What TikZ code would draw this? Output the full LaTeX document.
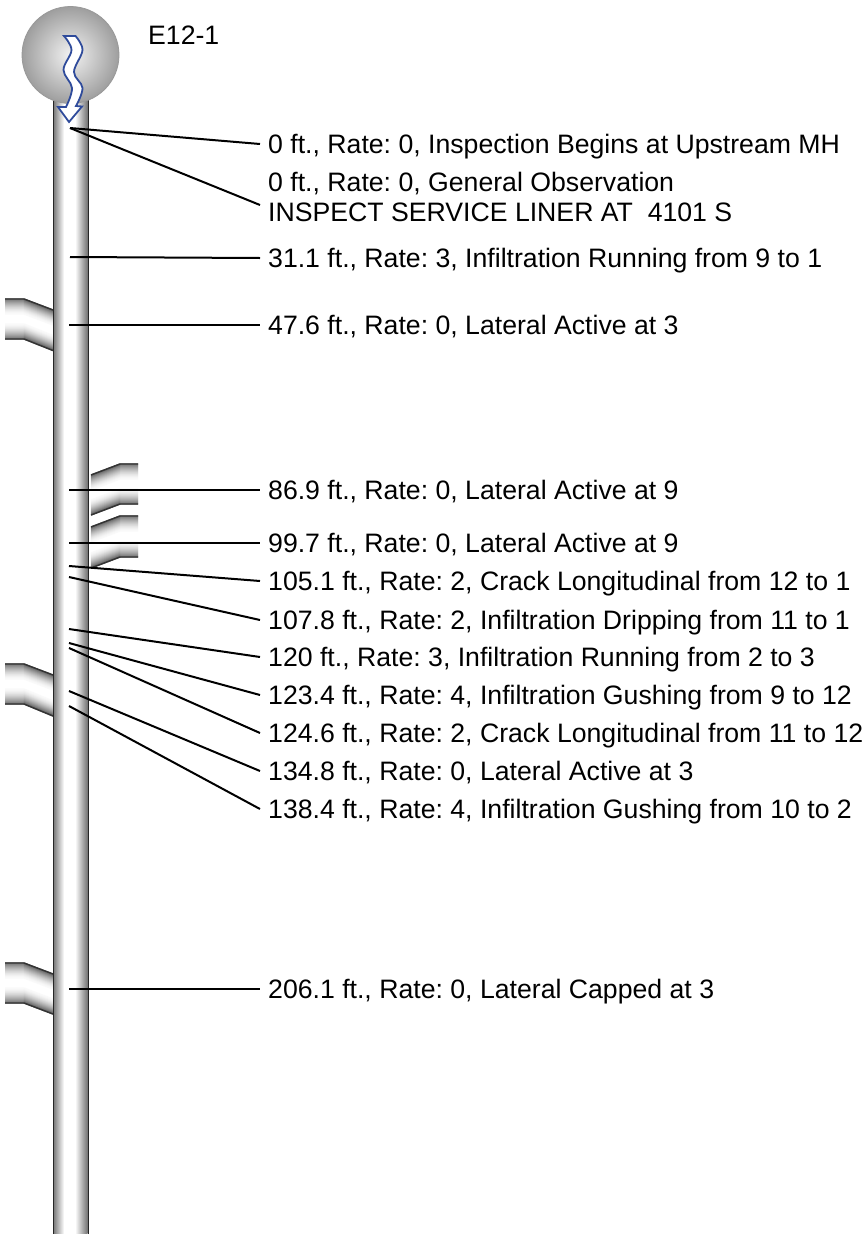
\documentclass[tikz,border=0pt]{standalone}
\usepackage{fontspec}
\setmainfont{Liberation Sans}
\frenchspacing
\definecolor{flowblue}{HTML}{2F4B9B}
\tikzset{
  x=1pt,y=-1pt,
  lblbase/.style={anchor=west,inner xsep=8pt,inner ysep=0pt,font=\fontsize{26.65}{30}\selectfont,align=left},
  lbl/.style={lblbase,text height=21pt,text depth=2pt},
  leader/.style={draw=black,line width=2pt},
  pipeedge/.style={draw=black!85,line width=1.6pt},
}
% #1 x0, #2 y0 at pipe end, #3 x1, #4 y1 at knee, #5 x2 free end, #6 fade dir (+1 down, -1 up)
\newcommand{\lateral}[6]{%
  \foreach \i in {15,14,...,0}{
    \pgfmathsetmacro{\pc}{60*(1-\i/15)^1.6+2}
    \draw[black!\pc,line width=1.4pt] (#1,#2+#6*\i) -- (#3,#4+#6*\i) -- (#5,#4+#6*\i);
  }
  \draw[black!80,line width=1.4pt] (#1,#2) -- (#3,#4) -- (#5,#4);
}
\begin{document}
\begin{tikzpicture}
\useasboundingbox (0,0) rectangle (866,1234);
\fill[white] (0,0) rectangle (866,1234);
% laterals
\lateral{53}{310}{24}{299}{5}{1}
\lateral{53}{350.5}{24}{339}{5}{-1}
\lateral{53}{675}{24}{664}{5}{1}
\lateral{53}{716}{24}{704}{5}{-1}
\lateral{53}{974}{24}{963}{5}{1}
\lateral{53}{1014}{24}{1003}{5}{-1}
\lateral{91}{475}{120}{464}{138}{1}
\lateral{91}{515}{120}{504}{138}{-1}
\lateral{91}{527}{120}{516}{138}{1}
\lateral{91}{568}{120}{557}{138}{-1}
% pipe
\fill[white] (54,80) rectangle (88,1234);
\shade[left color=black!50,right color=white] (54,80) rectangle (64,1234);
\shade[left color=white,right color=black!55] (75,80) rectangle (87.5,1234);
\draw[pipeedge] (53.5,80) -- (53.5,1234);
\draw[pipeedge] (88.5,80) -- (88.5,1234);
% manhole
\shade[inner color=black!5,outer color=black!38,draw=black!40,line width=.8pt] (70.5,55) circle[radius=48.5];
% flow arrow
\draw[draw=flowblue,fill=white,line width=1.8pt,line join=miter]
  (64,36) -- plot[smooth,tension=.6] coordinates {(64,36) (71.5,50) (63.5,70) (72,88) (66,107)}
  -- (58,107) -- (69,122) -- (82,106.5) -- (76,106)
  -- plot[smooth,tension=.6] coordinates {(76,106) (82.5,88) (74,72) (82.5,50) (75.5,36)}
  -- cycle;
% labels
\node[lbl] (title) at (140,35) {E12-1};
\node[lbl] (l1) at (260,144) {0 ft., Rate: 0, Inspection Begins at Upstream MH};
\node[lblbase] (l2) at (260,197) {0 ft., Rate: 0, General Observation\\INSPECT SERVICE LINER AT\ \ 4101 S};
\node[lbl] (l3) at (260,258) {31.1 ft., Rate: 3, Infiltration Running from 9 to 1};
\node[lbl] (l4) at (260,325) {47.6 ft., Rate: 0, Lateral Active at 3};
\node[lbl] (l5) at (260,490) {86.9 ft., Rate: 0, Lateral Active at 9};
\node[lbl] (l6) at (260,543) {99.7 ft., Rate: 0, Lateral Active at 9};
\node[lbl] (l7) at (260,581) {105.1 ft., Rate: 2, Crack Longitudinal from 12 to 1};
\node[lbl] (l8) at (260,620) {107.8 ft., Rate: 2, Infiltration Dripping from 11 to 1};
\node[lbl] (l9) at (260,657) {120 ft., Rate: 3, Infiltration Running from 2 to 3};
\node[lbl] (l10) at (260,695) {123.4 ft., Rate: 4, Infiltration Gushing from 9 to 12};
\node[lbl] (l11) at (260,733) {124.6 ft., Rate: 2, Crack Longitudinal from 11 to 12};
\node[lbl] (l12) at (260,771) {134.8 ft., Rate: 0, Lateral Active at 3};
\node[lbl] (l13) at (260,809) {138.4 ft., Rate: 4, Infiltration Gushing from 10 to 2};
\node[lbl] (l14) at (260,989) {206.1 ft., Rate: 0, Lateral Capped at 3};
% defect points on the pipe
\coordinate (p1) at (70,128);
\coordinate (p2) at (70,128);
\coordinate (q2) at (260,205);
\coordinate (p3) at (70,257);
\coordinate (p4) at (69,325);
\coordinate (p5) at (69,490);
\coordinate (p6) at (69,543);
\coordinate (p7) at (69,566);
\coordinate (p8) at (69,577);
\coordinate (p9) at (69,629);
\coordinate (p10) at (69,643);
\coordinate (p11) at (69,648);
\coordinate (p12) at (69,691);
\coordinate (p13) at (69,706);
\coordinate (p14) at (69,989);
% leaders
\draw[leader] (p1) -- (l1.west);
\draw[leader] (p2) -- (q2);
\foreach \n in {3,...,14}{\draw[leader] (p\n) -- (l\n.west);}
\end{tikzpicture}
\end{document}
